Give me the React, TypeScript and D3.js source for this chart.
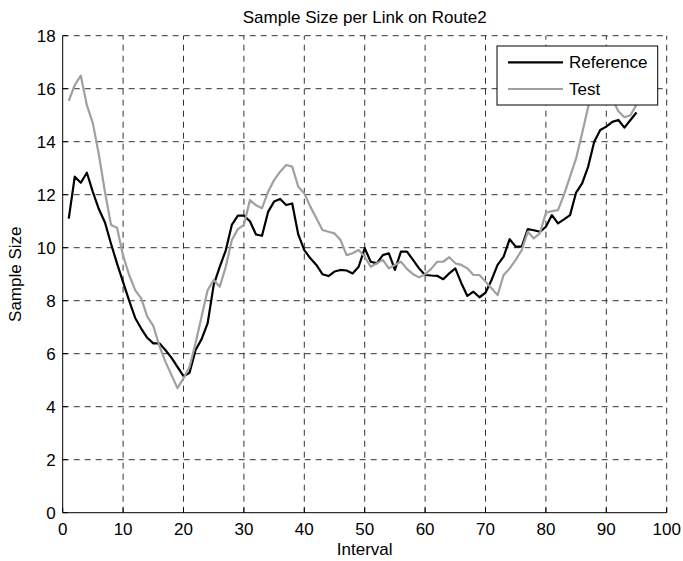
import React from "react";
import * as d3 from "d3";

const intervals: number[] = d3.range(1, 96);

const referenceValues: number[] = [
  11.1, 12.68, 12.45, 12.83, 12.1, 11.45, 10.95, 10.15, 9.4, 8.7,
  8.0, 7.35, 6.95, 6.6, 6.39, 6.39, 6.14, 5.85, 5.5, 5.15,
  5.28, 6.14, 6.55, 7.15, 8.6, 9.28, 9.9, 10.86, 11.21, 11.21,
  11.0, 10.5, 10.45, 11.35, 11.74, 11.84, 11.61, 11.67, 10.5, 9.91,
  9.6, 9.35, 9.0, 8.93, 9.1, 9.16, 9.14, 9.03, 9.28, 9.98,
  9.47, 9.41, 9.72, 9.79, 9.16, 9.85, 9.85, 9.54, 9.22, 8.97,
  8.95, 8.94, 8.81, 9.03, 9.22, 8.66, 8.18, 8.34, 8.13, 8.3,
  8.78, 9.35, 9.66, 10.32, 10.04, 10.04, 10.7, 10.66, 10.6, 10.79,
  11.23, 10.92, 11.07, 11.23, 12.08, 12.43, 13.06, 14.0, 14.44, 14.57,
  14.75, 14.82, 14.53, 14.82, 15.1,
];

const testValues: number[] = [
  15.54, 16.14, 16.49, 15.38, 14.69, 13.5, 12.1, 10.86, 10.75, 9.7,
  8.97, 8.4, 8.09, 7.4, 7.05, 6.3, 5.7, 5.2, 4.7, 5.07,
  5.5, 6.4, 7.4, 8.4, 8.78, 8.53, 9.28, 10.29, 10.7, 10.86,
  11.8, 11.6, 11.49, 12.11, 12.55, 12.87, 13.12, 13.06, 12.3, 12.05,
  11.55, 11.11, 10.67, 10.6, 10.54, 10.29, 9.72, 9.79, 9.91, 9.66,
  9.28, 9.41, 9.54, 9.22, 9.35, 9.47, 9.2, 9.0, 8.88, 9.0,
  9.2, 9.47, 9.47, 9.64, 9.41, 9.35, 9.22, 8.97, 8.97, 8.72,
  8.47, 8.21, 8.97, 9.22, 9.54, 9.91, 10.6, 10.35, 10.54, 11.32,
  11.38, 11.42, 12.0, 12.68, 13.37, 14.32, 15.32, 16.0, 16.4, 16.3,
  15.6, 15.15, 14.92, 15.0, 15.4,
];

const xTicks: number[] = [0, 10, 20, 30, 40, 50, 60, 70, 80, 90, 100];
const yTicks: number[] = [0, 2, 4, 6, 8, 10, 12, 14, 16, 18];
const seriesNames: string[] = ["Reference", "Test"];
const seriesColors: string[] = ["#000000", "#a0a0a0"];

const W = 683;
const H = 561;
const L = 62.7, R = 666.7, T = 35.7, B = 512.7;
const FONT = "Arial, 'Liberation Sans', Helvetica, sans-serif";

export default function App() {
  const x = d3.scaleLinear().domain([0, 100]).range([L, R]);
  const y = d3.scaleLinear().domain([0, 18]).range([B, T]);
  const line = d3
    .line<number>()
    .x((_, i) => x(intervals[i]))
    .y((d) => y(d));
  const series = [referenceValues, testValues];

  const legX = 497, legY = 46, legW = 160.7, legH = 59;

  return (
    <svg
      width={W}
      height={H}
      style={{ position: "absolute", left: 0, top: 0, background: "#fff" }}
      fontFamily={FONT}
    >
      <rect x={0} y={0} width={W} height={H} fill="#fff" />
      {/* grid */}
      {xTicks.slice(1).map((t) => (
        <line
          key={"gx" + t}
          x1={x(t)}
          x2={x(t)}
          y1={B}
          y2={T}
          stroke="#333"
          strokeWidth={1}
          strokeDasharray="6,5"
        />
      ))}
      {yTicks.slice(1).map((t) => (
        <line
          key={"gy" + t}
          x1={L}
          x2={R}
          y1={y(t)}
          y2={y(t)}
          stroke="#333"
          strokeWidth={1}
          strokeDasharray="6,5"
        />
      ))}
      {/* axes */}
      <line x1={L} x2={L} y1={T} y2={B} stroke="#000" strokeWidth={1} />
      <line x1={L} x2={R} y1={B} y2={B} stroke="#000" strokeWidth={1} />
      {yTicks.map((t) => (
        <g key={"ty" + t}>
          <line x1={L} x2={L + 5} y1={y(t)} y2={y(t)} stroke="#000" />
          <text x={L - 7} y={y(t) + 6} fontSize={17} textAnchor="end" fill="#000">
            {t}
          </text>
        </g>
      ))}
      {xTicks.map((t) => (
        <g key={"tx" + t}>
          <line x1={x(t)} x2={x(t)} y1={B} y2={B - 5} stroke="#000" />
          <text x={x(t)} y={B + 22} fontSize={17} textAnchor="middle" fill="#000">
            {t}
          </text>
        </g>
      ))}
      {/* lines */}
      {series.map((s, k) => (
        <path
          key={"s" + k}
          d={line(s) || ""}
          fill="none"
          stroke={seriesColors[k]}
          strokeWidth={2.2}
          strokeLinejoin="round"
        />
      ))}
      {/* legend */}
      <rect x={legX} y={legY} width={legW} height={legH} fill="#fff" stroke="#000" strokeWidth={1} />
      {seriesNames.map((n, k) => (
        <g key={"lg" + k}>
          <line
            x1={508}
            x2={563}
            y1={62.3 + k * 26.7}
            y2={62.3 + k * 26.7}
            stroke={seriesColors[k]}
            strokeWidth={2.2}
          />
          <text x={569} y={62.3 + k * 26.7 + 6} fontSize={17} fill="#000">
            {n}
          </text>
        </g>
      ))}
      {/* titles */}
      <text x={(L + R) / 2} y={23} fontSize={17} textAnchor="middle" fill="#000">
        Sample Size per Link on Route2
      </text>
      <text x={(L + R) / 2} y={555} fontSize={17} textAnchor="middle" fill="#000">
        Interval
      </text>
      <text
        transform={`translate(21,${(T + B) / 2}) rotate(-90)`}
        fontSize={17}
        textAnchor="middle"
        fill="#000"
      >
        Sample Size
      </text>
    </svg>
  );
}
